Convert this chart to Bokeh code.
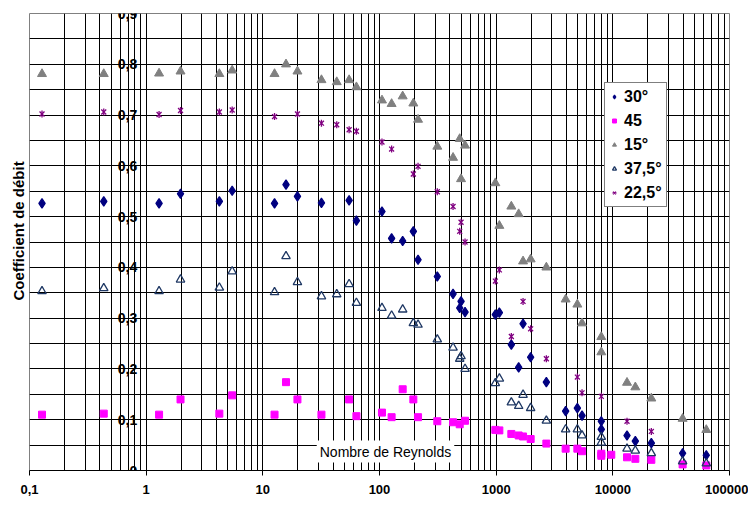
import math
from bokeh.plotting import figure
from bokeh.models import (FixedTicker, CustomJSTickFormatter, Legend, LegendItem,
                          Label, Title)
from bokeh.embed import file_html
from bokeh.resources import INLINE

# ---------------- data ----------------
re_30 = [0.128, 0.433, 1.29, 1.97, 4.24, 5.46, 12.6, 15.8, 19.8, 31.8, 54.9, 63.4,
         105, 127, 158, 195, 214, 313, 427, 500, 487, 541, 984, 1065, 1349, 1559,
         1700, 1975, 2693, 3941, 4965, 5445, 7966, 7966, 13230, 15590, 21380, 39640, 63250]
cd_30 = [0.526, 0.530, 0.526, 0.545, 0.530, 0.551, 0.526, 0.563, 0.540, 0.527, 0.532, 0.492,
         0.510, 0.457, 0.452, 0.471, 0.415, 0.382, 0.348, 0.333, 0.320, 0.312, 0.307, 0.311,
         0.248, 0.203, 0.289, 0.223, 0.174, 0.117, 0.123, 0.108, 0.097, 0.081, 0.069, 0.058,
         0.054, 0.034, 0.030]

re_45 = [0.128, 0.433, 1.29, 1.97, 4.24, 5.46, 12.6, 15.8, 19.8, 31.8, 54.9, 63.4,
         105, 127, 158, 195, 214, 313, 427, 487, 541, 984, 1065, 1349, 1559, 1700, 1975,
         2693, 3941, 4965, 5445, 7966, 7966, 9700, 13230, 15590, 21380, 39640, 63250]
cd_45 = [0.110, 0.112, 0.110, 0.140, 0.112, 0.148, 0.110, 0.174, 0.140, 0.110, 0.140, 0.107,
         0.114, 0.105, 0.160, 0.140, 0.105, 0.097, 0.095, 0.091, 0.098, 0.080, 0.079, 0.072,
         0.069, 0.067, 0.062, 0.053, 0.043, 0.043, 0.038, 0.033, 0.029, 0.031, 0.026, 0.023,
         0.021, 0.012, 0.010]

re_15 = [0.128, 0.433, 1.29, 1.97, 4.24, 5.46, 12.6, 15.8, 19.8, 31.8, 43.0, 54.9, 63.4,
         105, 127, 158, 195, 214, 313, 427, 487, 541, 500, 984, 1065, 1349, 1559, 1700,
         1975, 2693, 3941, 4965, 5445, 7966, 7966, 13230, 15590, 21380, 39640, 63250]
cd_15 = [0.781, 0.781, 0.782, 0.786, 0.781, 0.788, 0.781, 0.800, 0.786, 0.769, 0.765, 0.769,
         0.755, 0.729, 0.722, 0.737, 0.723, 0.691, 0.638, 0.616, 0.653, 0.640, 0.574, 0.566,
         0.482, 0.520, 0.505, 0.412, 0.416, 0.400, 0.337, 0.327, 0.290, 0.263, 0.233, 0.173,
         0.164, 0.142, 0.102, 0.080]

re_375 = [0.128, 0.433, 1.29, 1.97, 4.24, 5.46, 12.6, 15.8, 19.8, 31.8, 43.0, 54.9, 63.4,
          105, 127, 158, 195, 214, 313, 427, 500, 487, 541, 984, 1065, 1349, 1559, 1700,
          1975, 2693, 3941, 4965, 5445, 7966, 7966, 13230, 15590, 21380, 39640, 63250]
cd_375 = [0.353, 0.359, 0.353, 0.376, 0.360, 0.392, 0.351, 0.422, 0.371, 0.343, 0.347, 0.367,
          0.330, 0.320, 0.305, 0.317, 0.290, 0.287, 0.258, 0.242, 0.225, 0.220, 0.200, 0.172,
          0.181, 0.134, 0.127, 0.149, 0.123, 0.098, 0.081, 0.081, 0.069, 0.066, 0.055, 0.043,
          0.039, 0.034, 0.018, 0.014]

re_225 = [0.128, 0.433, 1.29, 1.97, 4.24, 5.46, 12.6, 19.8, 31.8, 43.0, 54.9, 63.4,
          105, 127, 195, 214, 313, 427, 500, 487, 541, 984, 1065, 1349, 1700, 1975, 2693,
          4965, 5445, 7966, 13230, 21380]
cd_225 = [0.702, 0.706, 0.701, 0.709, 0.706, 0.710, 0.697, 0.702, 0.684, 0.681, 0.671, 0.668,
          0.647, 0.633, 0.584, 0.599, 0.549, 0.520, 0.489, 0.471, 0.450, 0.373, 0.395, 0.264,
          0.333, 0.279, 0.220, 0.184, 0.153, 0.146, 0.097, 0.077]

series_labels = ["30°", "45", "15°", "37,5°", "22,5°"]

x_ticks = [0.1, 1, 10, 100, 1000, 10000, 100000]
y_ticks = [0, 0.1, 0.2, 0.3, 0.4, 0.5, 0.6, 0.7, 0.8, 0.9]

x_minor = [m * d for d in x_ticks[:-1] for m in range(2, 10)]
y_minor = [round(t + 0.05, 2) for t in y_ticks[:-1]]

FONT = "Liberation Sans"

# ---------------- figure ----------------
p = figure(x_axis_type="log", x_range=(0.1, 100000), y_range=(0, 0.9),
           frame_width=700, frame_height=457,
           min_border_left=29, min_border_right=19, min_border_top=13, min_border_bottom=31,
           output_backend="svg", toolbar_location=None,
           background_fill_color="white", border_fill_color="white")

p.outline_line_color = "#808080"

# x axis
p.xaxis.ticker = FixedTicker(ticks=x_ticks, minor_ticks=x_minor)
p.xaxis.formatter = CustomJSTickFormatter(
    code="return tick < 1 ? tick.toFixed(1).replace('.', ',') : tick.toFixed(0);")
p.xaxis.major_label_text_font = FONT
p.xaxis.major_label_text_font_size = "13px"
p.xaxis.major_label_text_font_style = "bold"
p.xaxis.major_label_text_color = "black"
p.xaxis.axis_line_color = "black"
p.xaxis.major_tick_line_color = "black"
p.xaxis.major_tick_out = 5
p.xaxis.major_tick_in = 0
p.xaxis.minor_tick_out = 0
p.xaxis.minor_tick_in = 0
p.xaxis.major_label_standoff = 9

# y axis crossing at x = 1
p.yaxis.fixed_location = 1
p.yaxis.ticker = FixedTicker(ticks=y_ticks, minor_ticks=y_minor)
p.yaxis.formatter = CustomJSTickFormatter(
    code="return Math.abs(tick) < 1e-9 ? '0' : tick.toFixed(1).replace('.', ',');")
p.yaxis.major_label_text_font = FONT
p.yaxis.major_label_text_font_size = "14px"
p.yaxis.major_label_text_font_style = "bold"
p.yaxis.major_label_text_color = "black"
p.yaxis.axis_line_color = "black"
p.yaxis.major_tick_out = 0
p.yaxis.major_tick_in = 0
p.yaxis.minor_tick_out = 0
p.yaxis.minor_tick_in = 0
p.yaxis.major_label_standoff = 9

# grids
for g in (p.xgrid, p.ygrid):
    g.grid_line_color = "black"
    g.grid_line_width = 1
    g.minor_grid_line_color = "black"
    g.minor_grid_line_width = 1

# y title on the left
p.add_layout(Title(text="Coefficient de débit", align="left", text_font=FONT,
                   text_font_size="15px", text_font_style="bold", text_color="black",
                   standoff=6, offset=170), "left")

# x title inside the plot
p.add_layout(Label(x=356, y=19, x_units="screen", y_units="screen",
                   text="Nombre de Reynolds", text_align="center", text_baseline="middle",
                   text_font=FONT, text_font_size="14px", text_color="black",
                   background_fill_color="white", padding=3))

# ---------------- series ----------------
r30 = p.scatter(re_30, cd_30, marker="diamond", size=9.5,
                fill_color="#000080", line_color="#000080", line_width=1.2)
r45 = p.scatter(re_45, cd_45, marker="square", size=7,
                fill_color="#FF00FF", line_color="#FF00FF")
r15 = p.scatter(re_15, cd_15, marker="triangle", size=9,
                fill_color="#808080", line_color="#808080")
r375 = p.scatter(re_375, cd_375, marker="triangle", size=8.5,
                 fill_color=None, line_color="#1F3864", line_width=1.3)
r225a = p.scatter(re_225, cd_225, marker="x", size=7,
                  line_color="#800080", line_width=1.3)
r225b = p.scatter(re_225, cd_225, marker="dash", size=7, angle=math.pi / 2,
                  line_color="#800080", line_width=1.3)

legend = Legend(items=[
    LegendItem(label=series_labels[0], renderers=[r30]),
    LegendItem(label=series_labels[1], renderers=[r45]),
    LegendItem(label=series_labels[2], renderers=[r15]),
    LegendItem(label=series_labels[3], renderers=[r375]),
    LegendItem(label=series_labels[4], renderers=[r225a, r225b]),
], location=(575, 263))
legend.label_text_font = FONT
legend.label_text_font_size = "16px"
legend.label_text_font_style = "bold"
legend.label_text_color = "black"
legend.border_line_color = "black"
legend.border_line_width = 1
legend.background_fill_color = "white"
legend.background_fill_alpha = 1
legend.padding = 4
legend.spacing = 5
legend.glyph_width = 10
legend.glyph_height = 19
legend.label_height = 19
legend.label_standoff = 5
legend.margin = 0
p.add_layout(legend)

open("out.html", "w").write(file_html(p, INLINE))
